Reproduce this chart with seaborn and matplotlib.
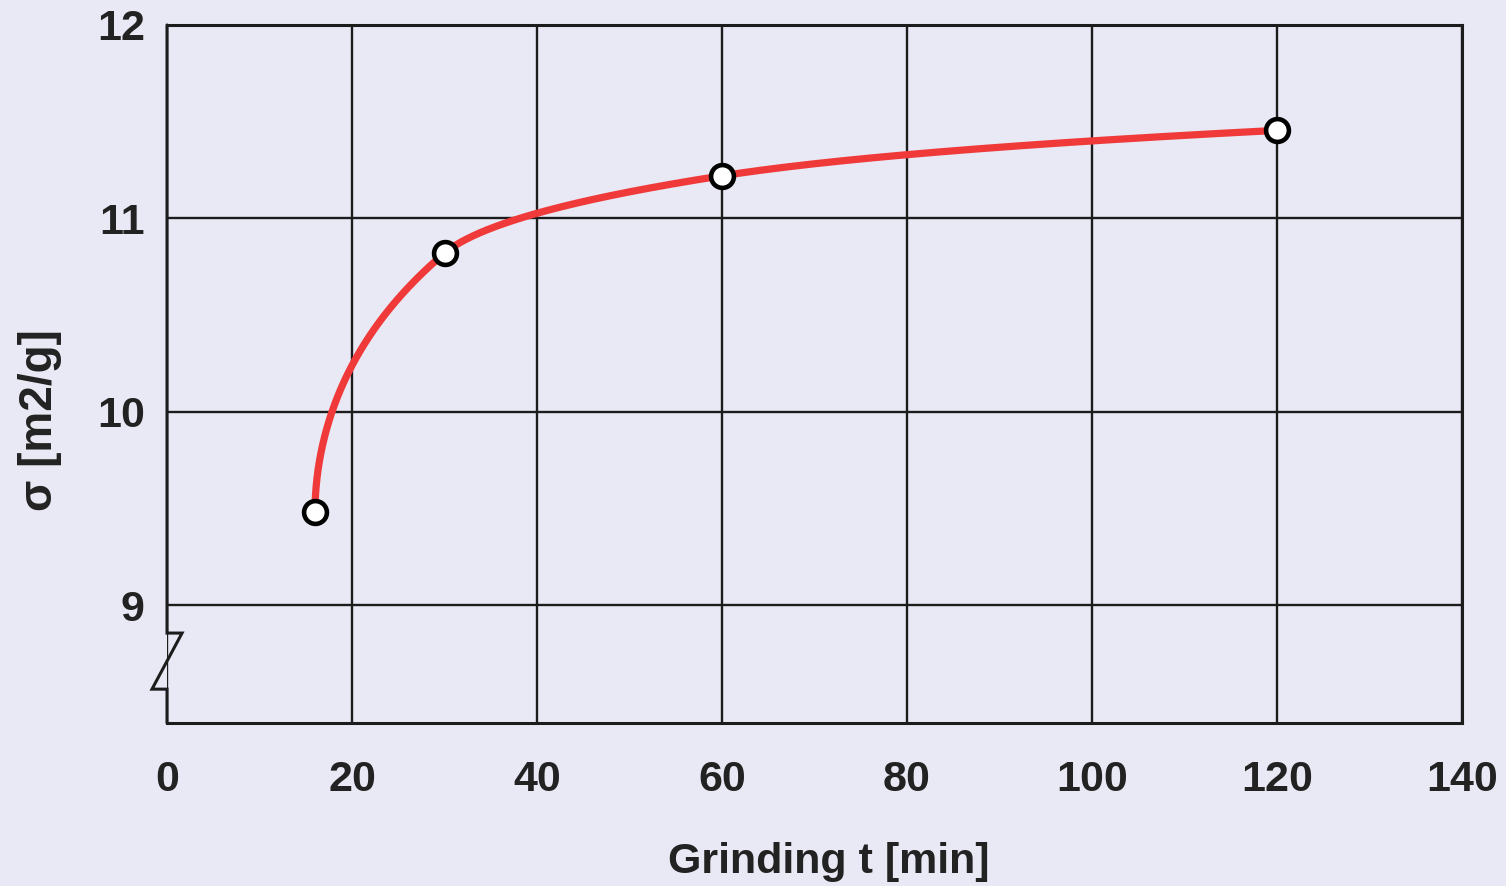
import numpy as np
import matplotlib
matplotlib.use("Agg")
import matplotlib.pyplot as plt
import matplotlib.transforms as mtransforms
import seaborn as sns

# Measured specific surface vs. grinding time
grinding_time = [16, 30, 60, 120]          # min
surface_area = [9.48, 10.82, 11.22, 11.455]  # m2/g

x_ticks = [0, 20, 40, 60, 80, 100, 120, 140]
y_ticks = [9, 10, 11, 12]

BG = "#e8e9f4"
INK = "#1c1c1c"
RED = "#f03a3a"


def pchip(xk, yk, xs):
    """Monotone cubic Hermite interpolation (Fritsch-Carlson)."""
    xk = np.asarray(xk, float)
    yk = np.asarray(yk, float)
    h = np.diff(xk)
    delta = np.diff(yk) / h
    n = len(xk)
    d = np.zeros(n)
    for k in range(1, n - 1):
        if delta[k - 1] * delta[k] > 0:
            w1 = 2 * h[k] + h[k - 1]
            w2 = h[k] + 2 * h[k - 1]
            d[k] = (w1 + w2) / (w1 / delta[k - 1] + w2 / delta[k])

    def edge(h0, h1, d0, d1):
        v = ((2 * h0 + h1) * d0 - h0 * d1) / (h0 + h1)
        if np.sign(v) != np.sign(d0):
            return 0.0
        if np.sign(d0) != np.sign(d1) and abs(v) > 3 * abs(d0):
            return 3 * d0
        return v

    d[0] = edge(h[0], h[1], delta[0], delta[1])
    d[-1] = edge(h[-1], h[-2], delta[-1], delta[-2])
    idx = np.clip(np.searchsorted(xk, xs) - 1, 0, n - 2)
    t = (xs - xk[idx]) / h[idx]
    h00 = 2 * t**3 - 3 * t**2 + 1
    h10 = t**3 - 2 * t**2 + t
    h01 = -2 * t**3 + 3 * t**2
    h11 = t**3 - t**2
    return (h00 * yk[idx] + h10 * h[idx] * d[idx]
            + h01 * yk[idx + 1] + h11 * h[idx] * d[idx + 1])


# Smooth trend: log(time) as a monotone function of surface area
ys = np.linspace(surface_area[0], surface_area[-1], 500)
xs = np.exp(pchip(surface_area, np.log(grinding_time), ys))

sns.set_theme(style="white")
plt.rcParams["font.family"] = ["Liberation Sans", "DejaVu Sans"]

fig = plt.figure(figsize=(15.06, 8.86), dpi=100, facecolor=BG)
ax = fig.add_axes([0.1109, 0.1840, 0.8599, 0.7878])
ax.set_facecolor(BG)

ax.set_xlim(0, 140)
ax.set_ylim(8.39, 12)
ax.set_xticks(x_ticks)
ax.set_yticks(y_ticks)
ax.grid(True, color=INK, linewidth=1.7)
ax.set_axisbelow(True)

sns.lineplot(x=xs, y=ys, sort=False, color=RED, linewidth=5.2,
             ax=ax, zorder=3)
sns.scatterplot(x=grinding_time, y=surface_area, s=270, color="white",
                edgecolor="black", linewidth=3.3, ax=ax, zorder=4)

for side in ("top", "right", "bottom"):
    ax.spines[side].set_visible(True)
    ax.spines[side].set_color(INK)
    ax.spines[side].set_linewidth(2.2)
ax.spines["left"].set_visible(False)

# Left axis with a break symbol near the bottom
trans = mtransforms.blended_transform_factory(ax.transAxes, ax.transData)
bx = [0, 0, 0.0116, -0.0116, 0, 0]
by = [12, 8.855, 8.855, 8.565, 8.565, 8.39]
ax.plot(bx, by, color=INK, linewidth=2.2, transform=trans,
        clip_on=False, zorder=5, solid_joinstyle="miter")

ax.tick_params(axis="both", length=0, labelsize=31, colors="#222222")
ax.tick_params(axis="x", pad=27)
ax.tick_params(axis="y", pad=16)
for lab in ax.get_xticklabels() + ax.get_yticklabels():
    lab.set_fontweight("bold")

ax.set_xlabel("Grinding t [min]", fontsize=31, fontweight="bold",
              color="#222222")
ax.set_ylabel("σ [m2/g]", fontsize=33, fontweight="bold",
              color="#222222")
ax.yaxis.set_label_coords(-0.081, 0.434)
ax.xaxis.set_label_coords(0.511, -0.170)

fig.savefig("out.png", dpi=100, facecolor=BG)
